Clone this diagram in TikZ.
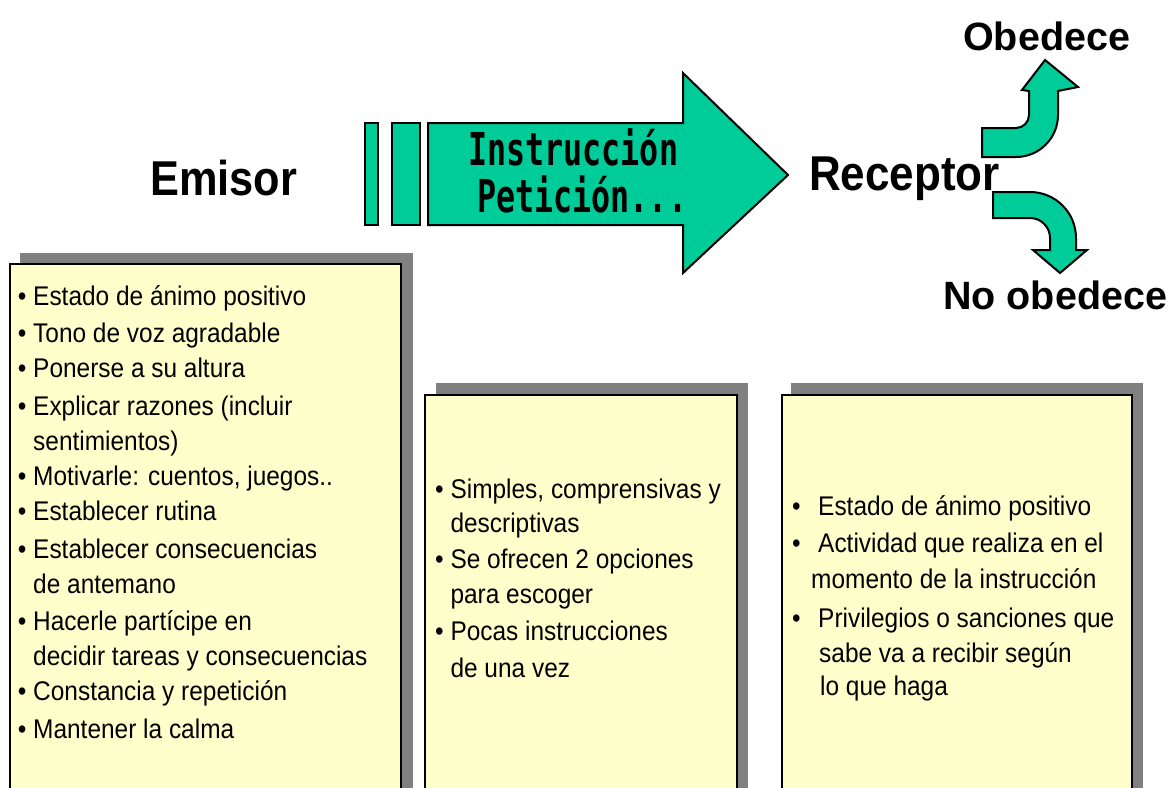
\documentclass[tikz,border=0pt]{standalone}
\usepackage{fontspec}
\usepackage{graphicx}
\setmainfont{Liberation Sans}
\newfontfamily\monofont{DejaVu Sans Mono}
\definecolor{tealg}{RGB}{0,204,153}
\definecolor{paper}{RGB}{255,255,204}
\definecolor{shade}{RGB}{128,128,128}
\newcommand{\bsc}[1]{\scalebox{0.905}[1]{#1}}
\tikzset{
  greenshape/.style={fill=tealg, draw=black, line width=2pt, line join=miter},
  notebox/.style={fill=paper, draw=black, line width=2pt},
  shadowbox/.style={fill=shade, draw=none},
  bodytext/.style={anchor=base west, inner sep=0pt, font=\fontsize{27}{27}\selectfont},
  titletext/.style={anchor=base west, inner sep=0pt},
}
\begin{document}
\begin{tikzpicture}[x=1pt,y=1pt]
\clip (0,0) rectangle (1174,-787);
\fill[white] (0,0) rectangle (1174,-787);

% note boxes with shadows
\fill[shadowbox] (20,-253) rectangle (413,-800);
\draw[notebox] (10,-264) rectangle (401,-800);
\fill[shadowbox] (436,-383) rectangle (748,-800);
\draw[notebox] (425,-395) rectangle (737,-800);
\fill[shadowbox] (791,-383) rectangle (1143,-800);
\draw[notebox] (782,-395) rectangle (1132,-800);

% main arrow
\draw[greenshape] (365,-123) rectangle (378,-225);
\draw[greenshape] (392,-123) rectangle (420,-225);
\draw[greenshape] (428,-123) -- (683,-123) -- (683,-73) -- (788,-175)
  -- (683,-273) -- (683,-225) -- (428,-225) -- cycle;

% curved arrows
\draw[greenshape] (982,-128) -- (1016,-128) arc[start angle=-90, end angle=0, radius=13]
  -- (1029,-91) -- (1022,-90) -- (1045,-60) -- (1078,-87) -- (1058,-91)
  -- (1058,-115) arc[start angle=0, end angle=-90, radius=42] -- (982,-157) -- cycle;
\draw[greenshape] (993,-192) -- (1030,-192) arc[start angle=90, end angle=0, radius=46]
  -- (1076,-250) -- (1087,-250) -- (1060,-273) -- (1033,-250) -- (1050,-250)
  -- (1050,-238) arc[start angle=0, end angle=90, radius=20] -- (993,-218) -- cycle;

% titles
\node[titletext, font=\fontsize{48.9}{48.9}\selectfont\bfseries] (emisor) at (150,-195) {\scalebox{0.886}[1]{Emisor}};
\node[titletext, font=\fontsize{48.9}{48.9}\selectfont\bfseries] (receptor) at (809,-190) {\scalebox{0.90}[1]{Receptor}};
\node[titletext, font=\fontsize{39.5}{39.5}\selectfont\bfseries] (obedece) at (963,-50) {Obedece};
\node[titletext, font=\fontsize{39.5}{39.5}\selectfont\bfseries] (noobedece) at (943,-309) {No obedece};
\node[titletext, font=\monofont\bfseries\fontsize{31.7}{31.7}\selectfont] (instr) at (468,-165) {\scalebox{1}[1.43]{Instrucción}};
\node[titletext, font=\monofont\bfseries\fontsize{31.7}{31.7}\selectfont] (petic) at (477,-212) {\scalebox{1}[1.43]{Petición...}};

% box 1 text
\foreach \y/\t [count=\i] in {
  305/{\textbullet\ Estado de ánimo positivo},
  342/{\textbullet\ Tono de voz agradable},
  377/{\textbullet\ Ponerse a su altura},
  415/{\textbullet\ Explicar razones (incluir},
  450/{\hphantom{\textbullet\ }sentimientos)},
  485/{\textbullet\ Motivarle: cuentos, juegos..},
  520/{\textbullet\ Establecer rutina},
  558/{\textbullet\ Establecer consecuencias},
  593/{\hphantom{\textbullet\ }de antemano},
  630/{\textbullet\ Hacerle partícipe en},
  665/{\hphantom{\textbullet\ }decidir tareas y consecuencias},
  700/{\textbullet\ Constancia y repetición},
  738/{\textbullet\ Mantener la calma}}
  \node[bodytext] (a\i) at (17.7,-\y) {\bsc{\t}};

% box 2 text
\foreach \y/\t [count=\i] in {
  498/{\textbullet\ Simples, comprensivas y},
  532/{\hphantom{\textbullet\ }descriptivas},
  568/{\textbullet\ Se ofrecen 2 opciones},
  603/{\hphantom{\textbullet\ }para escoger},
  640/{\textbullet\ Pocas instrucciones},
  677/{\hphantom{\textbullet\ }de una vez}}
  \node[bodytext] (b\i) at (435,-\y) {\bsc{\t}};

% box 3 text
\foreach \x/\y/\t [count=\i] in {
  792/515/{\textbullet\hspace{19.3pt}Estado de ánimo positivo},
  792/552/{\textbullet\hspace{19.3pt}Actividad que realiza en el},
  811/588/{momento de la instrucción},
  792/627/{\textbullet\hspace{19.3pt}Privilegios o sanciones que},
  819/662/{sabe va a recibir según},
  820/695/{lo que haga}}
  \node[bodytext] (c\i) at (\x,-\y) {\bsc{\t}};
\end{tikzpicture}
\end{document}
